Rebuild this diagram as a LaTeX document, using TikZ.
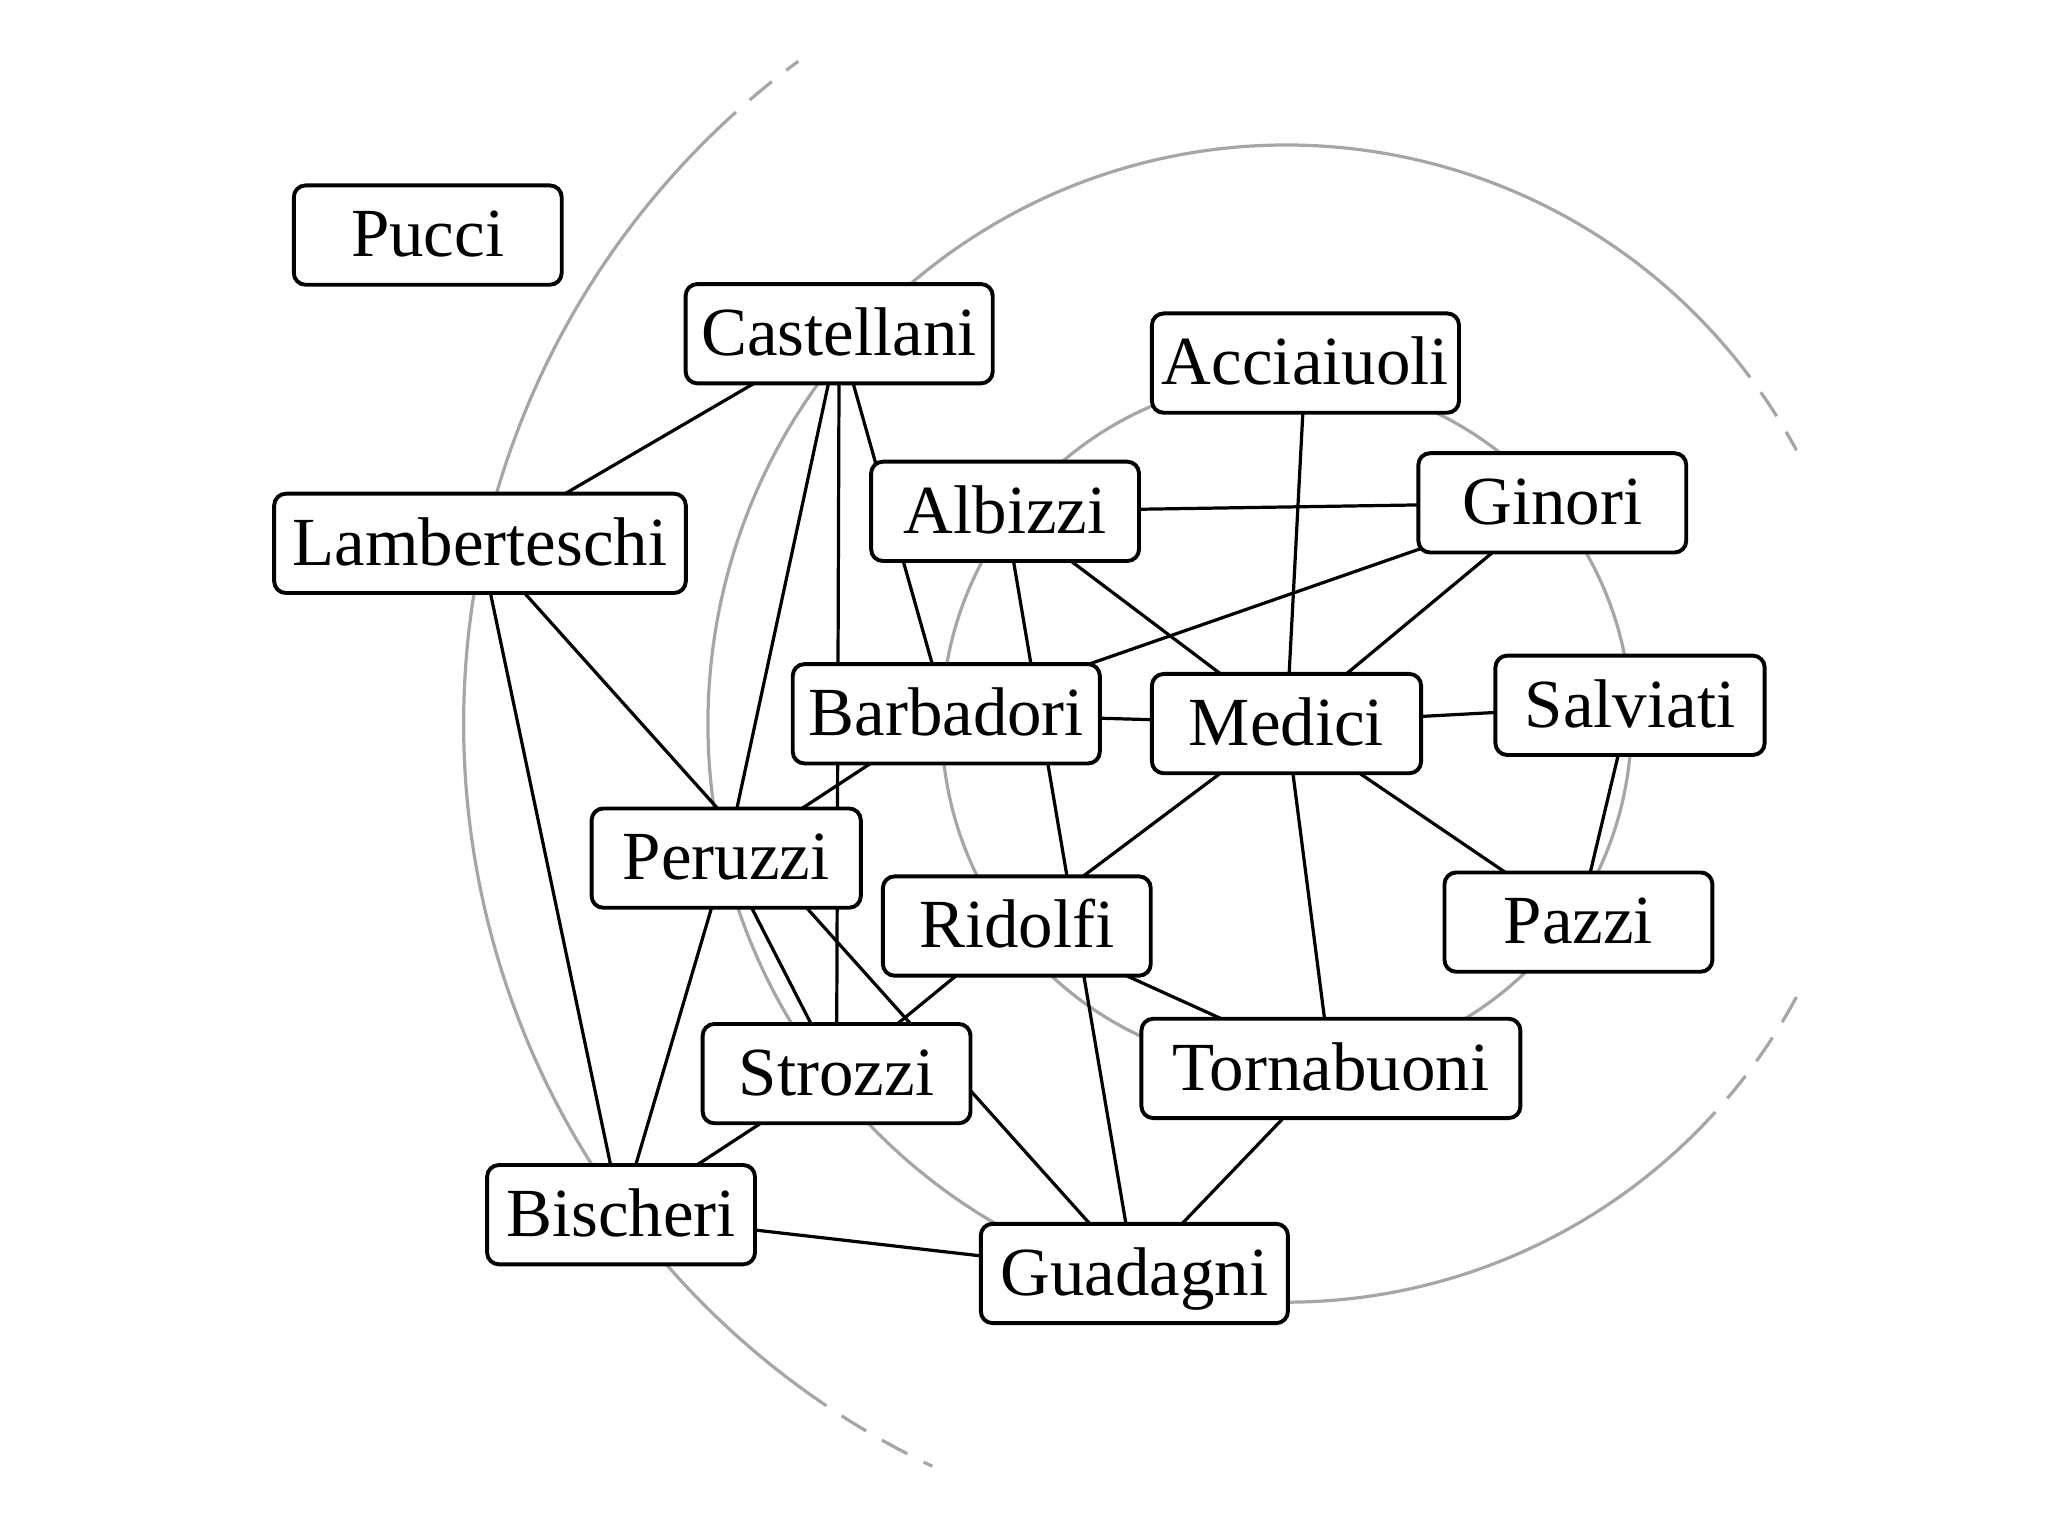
\documentclass[tikz,border=0pt]{standalone}
\usepackage{fontspec}
\setmainfont{Liberation Serif}
\pgfdeclarelayer{bg}
\pgfsetlayers{bg,main}
\tikzset{
  fam/.style={draw, line width=0.85pt, rounded corners=0.09cm, fill=white,
    minimum height=0.76cm, inner sep=0pt, text height=11pt, text depth=1.5pt,
    font=\fontsize{15}{18}\selectfont},
  tie/.style={line width=0.7pt, black},
  ring/.style={line width=0.7pt, gray!70},
  ringdash/.style={ring, dash pattern=on 0.22cm off 0.14cm}
}
\begin{document}
\begin{tikzpicture}[x=0.01cm, y=-0.01cm]
\useasboundingbox (0,0) rectangle (1568,1176);
\node[fam, minimum width=2.05cm] (Pucci) at (327.5,180) {Pucci};
\node[fam, minimum width=2.35cm] (Castellani) at (642.5,255.5) {Castellani};
\node[fam, minimum width=3.15cm] (Lamberteschi) at (367.5,416) {Lamberteschi};
\node[fam, minimum width=2.35cm] (Acciaiuoli) at (999.5,278) {Acciaiuoli};
\node[fam, minimum width=2.05cm] (Albizzi) at (769.5,391.5) {Albizzi};
\node[fam, minimum width=2.05cm] (Ginori) at (1188.5,385) {Ginori};
\node[fam, minimum width=2.35cm] (Barbadori) at (724.5,546.5) {Barbadori};
\node[fam, minimum width=2.06cm] (Medici) at (985,554) {Medici};
\node[fam, minimum width=2.06cm] (Salviati) at (1248,540) {Salviati};
\node[fam, minimum width=2.06cm] (Peruzzi) at (556,657) {Peruzzi};
\node[fam, minimum width=2.05cm] (Ridolfi) at (778.5,709) {Ridolfi};
\node[fam, minimum width=2.05cm] (Pazzi) at (1208.5,706) {Pazzi};
\node[fam, minimum width=2.05cm] (Strozzi) at (640.5,822) {Strozzi};
\node[fam, minimum width=2.90cm] (Tornabuoni) at (1019,818) {Tornabuoni};
\node[fam, minimum width=2.05cm] (Bischeri) at (475.5,930) {Bischeri};
\node[fam, minimum width=2.35cm] (Guadagni) at (868.5,975) {Guadagni};
\begin{pgfonlayer}{bg}
  % rings centred on Medici (angles negated because the y axis points down)
  \draw[ring] (Medici.center) circle[radius=264];
  \draw[ring] (Medici.center) ++(-39.6:443) arc[start angle=-39.6, end angle=-317.5, radius=443];
  \draw[ringdash] (Medici.center) ++(-39.6:443) arc[start angle=-39.6, end angle=-28.2, radius=443];
  \draw[ringdash] (Medici.center) ++(28.2:443) arc[start angle=28.2, end angle=42.5, radius=443];
  \draw[ring] (Medici.center) ++(-134:630) arc[start angle=-134, end angle=-234, radius=630];
  \draw[ringdash] (Medici.center) ++(-134:630) arc[start angle=-134, end angle=-126.4, radius=630];
  \draw[ringdash] (Medici.center) ++(-234:630) arc[start angle=-234, end angle=-244.5, radius=630];
  % ties
  \draw[tie] (Castellani.center) -- (Lamberteschi.center);
  \draw[tie] (Castellani.center) -- (Peruzzi.center);
  \draw[tie] (Castellani.center) -- (Strozzi.center);
  \draw[tie] (Castellani.center) -- (Barbadori.center);
  \draw[tie] (Lamberteschi.center) -- (Bischeri.center);
  \draw[tie] (Lamberteschi.center) -- (Guadagni.center);
  \draw[tie] (Peruzzi.center) -- (Barbadori.center);
  \draw[tie] (Peruzzi.center) -- (Strozzi.center);
  \draw[tie] (Peruzzi.center) -- (Bischeri.center);
  \draw[tie] (Strozzi.center) -- (Bischeri.center);
  \draw[tie] (Strozzi.center) -- (Ridolfi.center);
  \draw[tie] (Bischeri.center) -- (Guadagni.center);
  \draw[tie] (Guadagni.center) -- (Tornabuoni.center);
  \draw[tie] (Guadagni.center) -- (Albizzi.center);
  \draw[tie] (Ridolfi.center) -- (Tornabuoni.center);
  \draw[tie] (Ridolfi.center) -- (Medici.center);
  \draw[tie] (Medici.center) -- (Tornabuoni.center);
  \draw[tie] (Medici.center) -- (Pazzi.center);
  \draw[tie] (Medici.center) -- (Salviati.center);
  \draw[tie] (Salviati.center) -- (Pazzi.center);
  \draw[tie] (Medici.center) -- (Barbadori.center);
  \draw[tie] (Medici.center) -- (Acciaiuoli.center);
  \draw[tie] (Medici.center) -- (Albizzi.center);
  \draw[tie] (Medici.center) -- (Ginori.center);
  \draw[tie] (Ginori.center) -- (Albizzi.center);
  \draw[tie] (Ginori.center) -- (Barbadori.center);
\end{pgfonlayer}
\end{tikzpicture}
\end{document}
